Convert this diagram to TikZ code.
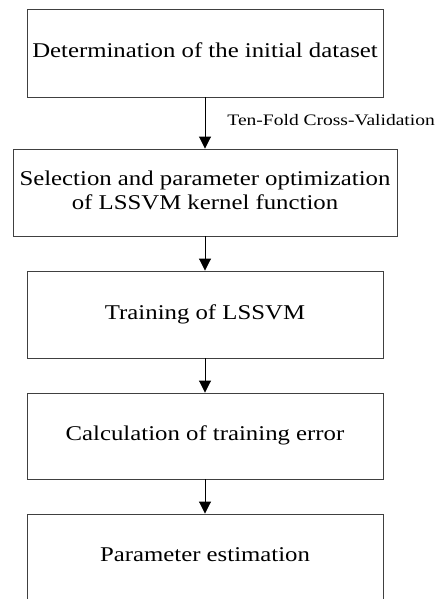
\documentclass[tikz,border=0pt]{standalone}
\usepackage{fontspec}
\usepackage{graphicx}
\setmainfont{Liberation Serif}
\usetikzlibrary{arrows.meta}
\definecolor{boxline}{HTML}{404040}
% text in this chart is set slightly widened
\newcommand{\widetext}[1]{\scalebox{1.18}[1]{\begin{tabular}{@{}c@{}}#1\end{tabular}}}
\begin{document}
\begin{tikzpicture}[x=1pt,y=-1pt,
  stepbox/.style={draw=boxline,line width=0.9pt,fill=white,inner sep=0pt,
    align=center,font=\fontsize{21}{24}\selectfont},
  wide/.style={stepbox,minimum width=384pt,minimum height=87pt},
  narrow/.style={stepbox,minimum width=356pt,minimum height=87pt},
  flow/.style={draw=black,line width=0.9pt,-{Triangle[width=12pt,length=12pt]}}]
\useasboundingbox (0,0) rectangle (446,599);
\node[stepbox,minimum width=356pt,minimum height=88pt] (init) at (205,53) {\widetext{Determination of the initial dataset}};
\node[wide] (select) at (205,192.5) {\widetext{Selection and parameter optimization\\of LSSVM kernel function}};
\node[narrow] (train) at (205,314.5) {\widetext{Training of LSSVM}};
\node[narrow,minimum height=86pt] (error) at (205,436) {\widetext{Calculation of training error}};
\node[narrow,minimum height=86pt] (estim) at (205,557) {\widetext{Parameter estimation}};
\draw[flow] (init) -- (select) node[pos=0.54,anchor=base west,xshift=22pt,inner sep=0pt,font=\fontsize{16}{18}\selectfont] (cv) {\scalebox{1.22}[1]{Ten-Fold Cross-Validation}};
\draw[flow] (select) -- (train);
\draw[flow] (train) -- (error);
\draw[flow] (error) -- (estim);
\end{tikzpicture}
\end{document}
